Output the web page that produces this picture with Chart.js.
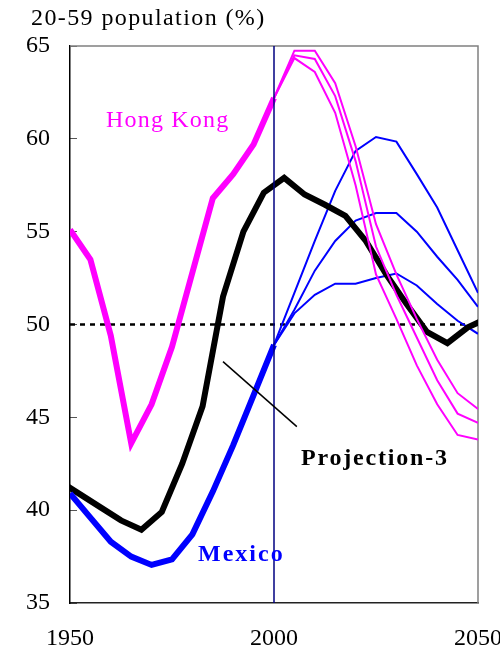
<!DOCTYPE html>
<html>
<head>
<meta charset="utf-8">
<script src="https://cdn.jsdelivr.net/npm/chart.js@4.4.1/dist/chart.umd.min.js"></script>
<style>
  html, body { margin: 0; padding: 0; background: #fff; }
  #wrap { width: 500px; height: 657px; position: relative; }
</style>
</head>
<body>
<div id="wrap"><canvas id="c" width="500" height="657"></canvas></div>
<script>
// ---- data ----
const histYears = [1950, 1955, 1960, 1965, 1970, 1975, 1980, 1985, 1990, 1995, 2000];
const hongKong  = [55.1, 53.5, 49.4, 43.6, 45.7, 48.8, 52.8, 56.8, 58.1, 59.7, 62.2];
const mexico    = [40.9, 39.6, 38.3, 37.5, 37.05, 37.35, 38.7, 41.0, 43.5, 46.2, 48.9];

const projYears  = [2000, 2005, 2010, 2015, 2020, 2025, 2030, 2035, 2040, 2045, 2050];
const hkProjHigh = [62.2, 64.75, 64.75, 63.0, 59.6, 55.4, 52.7, 50.3, 48.1, 46.3, 45.45];
const hkProjMid  = [62.2, 64.5, 64.3, 62.3, 58.8, 54.2, 51.6, 49.3, 47.0, 45.2, 44.7];
const hkProjLow  = [62.2, 64.35, 63.6, 61.4, 57.5, 52.7, 50.3, 47.8, 45.7, 44.05, 43.8];
const mxProjHigh = [48.9, 51.7, 54.5, 57.2, 59.35, 60.1, 59.85, 58.1, 56.3, 54.0, 51.7];
const mxProjMid  = [48.9, 50.8, 52.9, 54.5, 55.6, 56.0, 56.0, 55.0, 53.65, 52.4, 50.95];
const mxProjLow  = [48.9, 50.6, 51.6, 52.2, 52.2, 52.5, 52.75, 52.1, 51.1, 50.2, 49.5];

const proj3Years = [1947.5, 1952.5, 1957.5, 1962.5, 1967.5, 1972.5, 1977.5, 1982.5, 1987.5, 1992.5, 1997.5,
                    2002.5, 2007.5, 2012.5, 2017.5, 2022.5, 2027.5, 2032.5, 2037.5, 2042.5, 2047.5, 2052.5];
const projection3 = [41.55, 40.85, 40.15, 39.45, 38.95, 39.9, 42.5, 45.6, 51.5, 55.0, 57.1,
                     57.9, 57.0, 56.45, 55.85, 54.5, 52.7, 51.1, 49.6, 49.0, 49.85, 50.35];

const refLineYears = [1950, 2050];
const refLevel = [50, 50];
const markerYears = [2000, 2000];
const markerSpan = [35, 65];
const leaderYears = [1987.5, 2005.6];
const leaderValues = [48.0, 44.5];

const xTickValues = [1950, 2000, 2050];
const yTickValues = [35, 40, 45, 50, 55, 60, 65];

const titleText = '20-59 population (%)';
const hkLabel = 'Hong Kong';
const mxLabel = 'Mexico';
const p3Label = 'Projection-3';

// ---- helpers ----
const pts = (xs, ys) => xs.map((x, i) => ({ x: x, y: ys[i] }));
const FONT = "'Liberation Serif', 'Times New Roman', serif";

function ds(xs, ys, color, width, extra) {
  return Object.assign({
    data: pts(xs, ys),
    borderColor: color,
    backgroundColor: color,
    borderWidth: width,
    pointRadius: 0,
    pointHoverRadius: 0,
    tension: 0,
    fill: false,
    borderJoinStyle: 'miter',
    borderCapStyle: 'butt'
  }, extra || {});
}

const overlay = {
  id: 'overlay',
  beforeDatasetsDraw(chart) {
    const a = chart.chartArea, ctx = chart.ctx;
    ctx.save();
    ctx.strokeStyle = '#808080';
    ctx.lineWidth = 1.5;
    ctx.beginPath();
    ctx.moveTo(a.left, a.top);
    ctx.lineTo(a.right, a.top);
    ctx.lineTo(a.right, a.bottom);
    ctx.stroke();
    ctx.restore();
  },
  afterDraw(chart) {
    const ctx = chart.ctx;
    function txt(s, x, y, color, weight, spacing) {
      ctx.save();
      ctx.font = weight + ' 24px ' + FONT;
      ctx.fillStyle = color;
      ctx.textAlign = 'left';
      ctx.textBaseline = 'alphabetic';
      try { ctx.letterSpacing = spacing + 'px'; } catch (e) {}
      ctx.fillText(s, x, y);
      ctx.restore();
    }
    txt(titleText, 31, 25, '#000', 'normal', 1.4);
    txt(hkLabel, 106, 127, '#ff00ff', 'normal', 1.2);
    txt(mxLabel, 198, 561, '#0000ff', 'bold', 2);
    txt(p3Label, 301, 465, '#000', 'bold', 1.8);
  }
};

new Chart(document.getElementById('c'), {
  type: 'line',
  data: {
    datasets: [
      ds(leaderYears, leaderValues, '#000000', 1.5),
      ds(markerYears, markerSpan, '#000080', 1.5),
      ds(histYears, mexico, '#0000ff', 6),
      ds(histYears, hongKong, '#ff00ff', 6),
      ds(projYears, hkProjHigh, '#ff00ff', 2),
      ds(projYears, hkProjMid, '#ff00ff', 2),
      ds(projYears, hkProjLow, '#ff00ff', 2),
      ds(proj3Years, projection3, '#000000', 6, { clip: 0 }),
      ds(projYears, mxProjHigh, '#0000ff', 2),
      ds(projYears, mxProjMid, '#0000ff', 2),
      ds(projYears, mxProjLow, '#0000ff', 2),
      ds(refLineYears, refLevel, '#000000', 2.5, { borderDash: [5, 5] })
    ]
  },
  options: {
    responsive: false,
    animation: false,
    events: [],
    layout: { padding: { top: 46, right: 22, left: 0, bottom: 0 } },
    plugins: { legend: { display: false }, tooltip: { enabled: false }, title: { display: false } },
    scales: {
      x: {
        type: 'linear',
        position: 'bottom',
        min: 1950,
        max: 2050,
        afterBuildTicks(scale) { scale.ticks = xTickValues.map(v => ({ value: v })); },
        afterFit(scale) { scale.height = 54; scale.paddingLeft = 0; scale.paddingRight = 0; },
        ticks: {
          callback: v => String(v),
          color: '#000',
          padding: 21,
          maxRotation: 0,
          autoSkip: false,
          font: { family: FONT, size: 24 }
        },
        grid: { display: true, drawOnChartArea: false, drawTicks: false },
        border: { display: true, color: '#222', width: 1.5 }
      },
      y: {
        type: 'linear',
        position: 'left',
        min: 35,
        max: 65,
        afterBuildTicks(scale) { scale.ticks = yTickValues.map(v => ({ value: v })); },
        afterFit(scale) { scale.width = 70; },
        ticks: {
          callback: v => String(v),
          color: '#000',
          padding: 27,
          font: { family: FONT, size: 24 }
        },
        grid: { display: true, drawOnChartArea: false, drawTicks: true, tickLength: -7, color: '#555', lineWidth: 1 },
        border: { display: true, color: '#000', width: 1.5 }
      }
    }
  },
  plugins: [overlay]
});
</script>
</body>
</html>
